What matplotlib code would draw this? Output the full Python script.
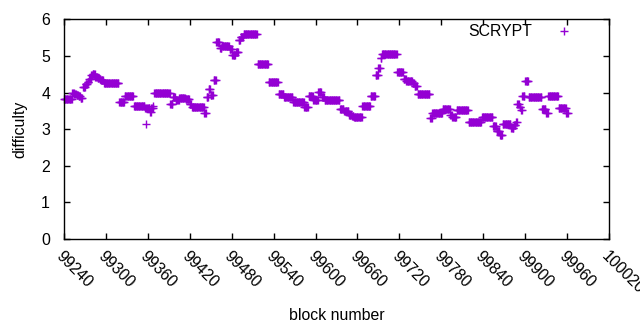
import numpy as np
import matplotlib
matplotlib.use('Agg')
import matplotlib.pyplot as plt

# difficulty is constant between retargets: each run starts at run_start[i]
run_start = [99240, 99252, 99255, 99258, 99261, 99264, 99267, 99271, 99274, 99276,
             99279, 99281, 99285, 99288, 99291, 99293, 99297, 99319, 99327, 99340,
             99356, 99357, 99358, 99363, 99365, 99368, 99369, 99392, 99396, 99400,
             99405, 99414, 99420, 99423, 99441, 99444, 99447, 99450, 99454, 99458,
             99463, 99466, 99477, 99481, 99486, 99490, 99493, 99497, 99517, 99533,
             99547, 99555, 99568, 99584, 99590, 99597, 99604, 99609, 99613, 99635,
             99641, 99648, 99652, 99655, 99667, 99679, 99686, 99690, 99693, 99695,
             99717, 99726, 99730, 99739, 99742, 99746, 99764, 99767, 99782, 99793,
             99796, 99802, 99819, 99838, 99854, 99859, 99864, 99868, 99880, 99884,
             99887, 99889, 99892, 99894, 99896, 99900, 99905, 99924, 99930, 99933,
             99948, 99959]
run_value = [3.82, 4.00, 3.97, 3.93, 3.90, 3.84, 4.14, 4.22, 4.30, 4.37,
             4.47, 4.51, 4.43, 4.40, 4.37, 4.34, 4.25, 3.73, 3.90, 3.62,
             3.57, 3.13, 3.57, 3.48, 3.57, 3.63, 3.98, 3.70, 3.89, 3.80,
             3.86, 3.82, 3.70, 3.61, 3.43, 3.89, 4.09, 3.93, 4.34, 5.39,
             5.21, 5.27, 5.18, 5.02, 5.11, 5.44, 5.53, 5.59, 4.77, 4.28,
             3.95, 3.87, 3.73, 3.60, 3.90, 3.80, 4.02, 3.88, 3.79, 3.54,
             3.50, 3.40, 3.35, 3.32, 3.63, 3.90, 4.48, 4.68, 4.93, 5.05,
             4.55, 4.37, 4.31, 4.25, 4.17, 3.95, 3.30, 3.45, 3.54, 3.40,
             3.34, 3.52, 3.20, 3.32, 3.09, 2.96, 2.84, 3.13, 3.03, 3.10,
             3.20, 3.70, 3.60, 3.52, 3.90, 4.32, 3.87, 3.55, 3.43, 3.90,
             3.57, 3.45]
last_block = 99961

x_ticks = list(range(99240, 100021, 60))
y_ticks = [0, 1, 2, 3, 4, 5, 6]

run_len = np.diff(run_start + [last_block + 1])
blocks = np.arange(run_start[0], last_block + 1)
difficulty = np.repeat(run_value, run_len)

plt.rcParams['font.family'] = ['Liberation Sans', 'DejaVu Sans']
plt.rcParams['font.size'] = 11.4

fig = plt.figure(figsize=(6.4, 3.3), dpi=100)
ax = fig.add_axes([64 / 640, 1 - 239 / 330, 545 / 640, 219.7 / 330])

ax.plot(blocks, difficulty, linestyle='none', marker='+', markersize=5.5,
        markeredgewidth=1.0, color='#9400d3', label='SCRYPT', clip_on=False)

ax.set_xlim(99240, 100020)
ax.set_ylim(0, 6)
ax.set_xticks(x_ticks)
ax.set_yticks(y_ticks)
ax.set_xticklabels([str(t) for t in x_ticks], rotation=-45, ha='left',
                   va='top', rotation_mode='anchor')
ax.tick_params(direction='in', length=4, width=1, top=True, right=True,
               colors='black', labelsize=11.4)
ax.tick_params(axis='x', pad=7)
ax.tick_params(axis='y', pad=10)
for s in ax.spines.values():
    s.set_linewidth(1.0)

ax.set_xlabel('block number', labelpad=8)
ax.set_ylabel('difficulty', labelpad=10)

ax.legend(loc='center right', bbox_to_anchor=(580 / 640, 1 - 32 / 330),
          bbox_transform=fig.transFigure, frameon=False, markerfirst=False,
          borderpad=0, borderaxespad=0, handlelength=2.0, handletextpad=1.0,
          fontsize=11.4)

fig.savefig('out.png', dpi=100)
